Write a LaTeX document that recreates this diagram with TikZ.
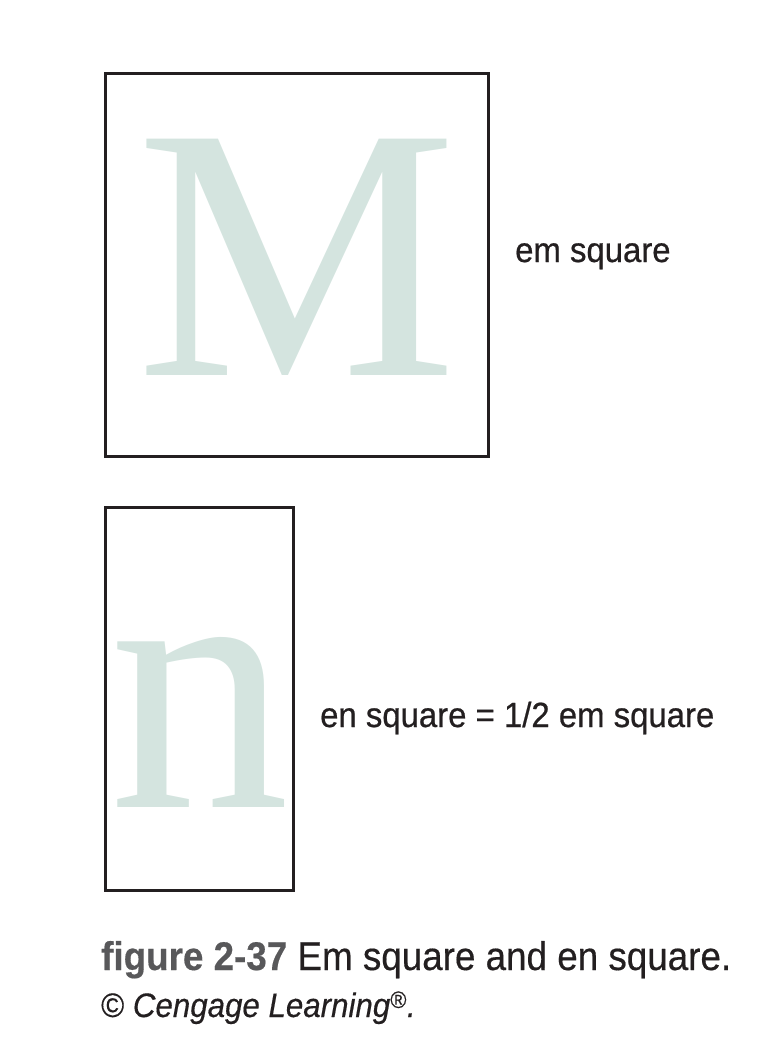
\documentclass[tikz,border=0pt]{standalone}
\usepackage{fontspec}
\setmainfont{Liberation Serif}
\newfontfamily\labelfont[FakeStretch=0.94, FakeBold=0.6]{Liberation Sans}
\newfontfamily\capfont[FakeStretch=0.92, FakeBold=0.4]{Liberation Sans}
\newfontfamily\glyphfont{Liberation Serif}
\usetikzlibrary{positioning}
\definecolor{ruleK}{RGB}{35,31,32}
\definecolor{glyphG}{RGB}{212,228,223}
\definecolor{capGr}{RGB}{88,88,90}

\begin{document}
\begin{tikzpicture}[x=1pt, y=-1pt,
  frame/.style={rectangle, draw=ruleK, line width=3pt, inner sep=0pt},
  ghost/.style={anchor=base, inner sep=0pt, text=glyphG,
                font=\glyphfont\fontsize{361}{361}\selectfont},
  lbl/.style={anchor=base west, inner sep=0pt, text=ruleK,
              font=\labelfont\fontsize{35}{40}\selectfont}]
  \useasboundingbox (0,0) rectangle (776,1038);
  % em square
  \node[frame, minimum width=383pt, minimum height=383pt] (em) at (297,265) {};
  \node[ghost] (M) at (296.5,375) {M};
  \node[lbl] (emlbl) at (515,262) {em square};
  % en square
  \node[frame, minimum width=188pt, minimum height=383pt] (en) at (199.5,699) {};
  \node[ghost] (n) at (199.5,807) {n};
  \node[lbl] (enlbl) at (320,727) {en square = 1/2 em square};
  % caption
  \node[lbl, font=\capfont\fontsize{40}{46}\selectfont] (cap) at (101,970)
      {\textcolor{capGr}{\bfseries figure 2-37} Em square and en square.};
  \node[lbl, font=\capfont\fontsize{34}{38}\selectfont\itshape] (credit) at (101,1017)
      {{\upshape\textcopyright} Cengage Learning\textsuperscript{\upshape\textregistered}.};
\end{tikzpicture}
\end{document}
